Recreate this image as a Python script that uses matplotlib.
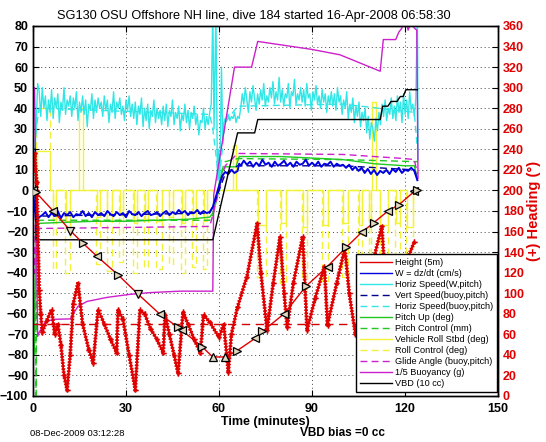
import numpy as np
import matplotlib
matplotlib.use('Agg')
import matplotlib.pyplot as plt
from matplotlib.lines import Line2D
from matplotlib import patheffects as pe

plt.rcParams['font.family'] = ['Liberation Sans', 'DejaVu Sans']

# ---------------- data (left axis units unless noted) ----------------
depth_t = [0, 1, 6.5, 12, 16, 20.6, 27.4, 34, 41, 46.8, 48, 54.5, 58, 62, 65.8, 71.6, 74, 81, 88, 95, 101, 106, 110, 114.5, 118, 123, 124]
depth_v = [0, -1, -10, -19.5, -25.5, -32, -41, -50.6, -60.3, -66.6, -68, -76, -81, -81, -78, -72, -68.6, -60, -46.7, -37, -27.7, -20.4, -15.6, -10, -7, -0.5, 0]
depth_markers = ['<', '>', '<', 'v', '>', '<', '>', 'v', '<', '>', '<', '>', '^', '^', '>', '<', '>', '<', '>', '<', '>', '<', '>', '<', '>', '<', '>']

# heading (degrees, right axis)
head_t = [0, 0.5, 1.2, 2, 2.5, 3, 4.5, 6, 7, 8, 9, 10, 11, 12, 13, 14.5, 16, 18, 19.4, 21,
          23, 25, 27, 27.4, 29, 31, 33, 34.5, 36, 38, 40, 42, 42.6, 44, 45.5, 46.8, 48.4, 50, 52, 54,
          55, 57, 60, 61.5, 62.5, 63, 64, 66, 69, 72.3, 73.5, 75.5, 77.5, 79.7, 81, 82, 84, 87, 88.4, 91,
          94, 95, 98, 100.6, 102, 104, 108, 112.5, 113.5, 115, 118, 121, 123]
head_v = [220, 236, 208, 103, 80, 62, 74, 84, 60, 70, 50, 20, 6, 40, 90, 110, 70, 45, 32, 84,
          70, 55, 42, 84, 75, 40, 6, 84, 80, 65, 55, 42, 79, 60, 40, 22, 82, 70, 55, 42,
          79, 72, 57, 70, 40, 23, 60, 87, 116, 168, 120, 64, 110, 155, 100, 67, 110, 155, 64, 95,
          126, 69, 110, 144, 100, 60, 110, 165, 120, 62, 100, 135, 150]
head_target = 70

# W = dz/dt
w_start_t = [0, 0.5, 1, 2]
w_start_v = [0, -8, -15, -13]
w_desc = [-12, -10.5, -13, -11, -12.5, -10, -13.5, -11, -12, -10.5,
          -13, -11.5, -12, -10, -12.5, -11, -13, -10.5, -12, -11,
          -12.5, -10, -11.5, -12.5, -10.5, -12, -11, -13, -10, -11.5,
          -12, -10.5, -12.5, -11, -10, -12, -11.5, -10.5, -12.5, -11,
          -10, -12, -10.5, -11.5, -9.5, -11, -10, -12, -10.5, -11,
          -9.5, -11.5, -10, -11, -10.5]
w_mid_t = [58, 59, 60, 61, 62, 63, 64, 65, 66, 66.5]
w_mid_v = [-8, -3, 2, 7, 9, 8, 10, 8.5, 9.5, 13]
w_asc1 = [12, 14.5, 12.5, 14, 11.5, 13.5, 12, 15, 12.5, 13.5, 11.5, 14, 12, 13, 14.5, 12, 13.5,
          11.5, 14, 12.5, 13, 15, 12, 13.5, 12, 14, 11.5, 13, 12.5, 14, 11.5, 13, 12, 12.5]
w_asc2 = [11, 12.5, 10, 11.5, 9.5, 11, 8.5, 10.5, 8, 10, 7.5, 9.5, 8.5, 10, 8, 10.5, 9, 11, 8.5, 10, 9.5, 11, 9.5]
w_end = 5

# Horiz speed (W, pitch)
hs_start_t = [0, 1, 1.5]
hs_start_v = [5, 30, 52]
hs_desc = [48, 36, 50, 40, 46, 34, 44, 38, 49, 35, 45, 40, 47, 33, 43, 39, 50, 37, 44, 41, 46,
           36, 45, 40, 48, 34, 43, 38, 46, 37, 44, 31, 42, 39, 47, 35, 44, 38, 45, 40, 43,
           36, 46, 39, 44, 33, 42, 38, 48, 35, 43, 40, 45, 37, 41, 34, 44, 39, 46, 36, 42,
           35, 43, 32, 41, 37, 45, 31, 40, 34, 42, 30, 39, 36, 44, 33, 40, 35, 39, 32, 41,
           34, 42, 31, 39, 36, 44, 32, 38, 35, 41, 29, 37, 34, 42, 33, 39, 30, 38, 35, 41,
           32, 37, 27, 34, 33, 40, 30, 36, 32, 38]
hs_mid_t = [57.5, 58, 58.4, 59, 59.5, 59.8, 60.2, 60.8, 61.2, 61.6, 62]
hs_mid_v = [42, 88, 30, 88, 5, 20, 0, 60, 25, 33, 35]
hs_asc0 = [35, 37, 34, 36, 35, 38, 33, 36, 35]
hs_asc = [40, 47, 42, 50, 44, 38, 48, 43, 51, 45, 39, 47, 42, 49, 44, 52, 41, 46, 43, 50,
          45, 53, 42, 48, 44, 55, 43, 49, 41, 47, 45, 52, 40, 48, 46, 54, 42, 47, 44, 50,
          43, 49, 41, 52, 45, 47, 39, 48, 44, 51, 42, 46, 40, 49, 43, 47, 38, 46, 42, 48,
          41, 47, 39, 50, 43, 46, 37, 44, 40, 48, 35, 42, 38, 45, 33, 41, 36, 43, 31, 38,
          34, 40, 28, 36, 25, 33, 30, 24, 35, 29, 38, 32, 42, 36, 44, 34, 40, 37, 45, 35,
          41, 34, 46, 38, 43, 33, 47, 37, 44, 35, 48, 39, 42, 36, 45]
hs_end_t = [124, 124.2]
hs_end_v = [88, 15]

# Vert speed (buoy,pitch) and Horiz speed (buoy,pitch)
vsb_t = [0, 1, 2, 57, 58, 60, 62, 66, 100, 123, 124]
vsb_v = [0, -13, -12.5, -11, -8, 0, 8, 12, 12, 10, 5]
hsb_t = [0, 1, 2, 57, 58, 60, 62, 66, 100, 123, 124]
hsb_v = [0, 30, 40, 37, 30, 5, 33, 41, 42, 38, 20]

# Pitch
pitch_t = [0, 0.3, 0.6, 1, 2, 10, 20, 30, 40, 50, 57, 58, 59, 60, 61, 62, 65.5, 66.5, 80, 100, 110, 120, 123, 124]
pitch_v = [0, -80, -60, -20, -16, -15.5, -15, -15, -14.5, -14, -13, -11, -5, 3, 9, 11.5, 11.5, 16.5, 16.5, 15, 13, 12, 12, 6]
pctl_t = [0, 0.8, 1.0, 1.2, 2, 57, 58, 60, 61, 62, 66, 100, 124]
pctl_v = [-2, -2, -110, -14, -14.5, -14.5, -12, 0, 10, 14, 15.5, 15, 14]

# Roll (solid) pulses and roll control (dashed) pulses
roll_starts = [1.2, 6.5, 10.5, 14.8, 20.5, 24.0, 28.0, 32.5, 36.0, 40.0, 44.0, 48.0, 51.5, 55.0, 64.5,
               72.5, 80.0, 87.0, 93.5, 100.0, 105.0, 108.3, 109.5, 112.0, 117.0, 120.6]
roll_ends = [5.5, 7.5, 12.0, 16.2, 21.5, 25.5, 29.0, 33.5, 37.0, 41.5, 45.0, 49.0, 52.5, 56.0, 65.5,
             75.0, 81.5, 88.5, 95.0, 101.5, 106.0, 109.0, 110.5, 114.5, 118.5, 122.5]
roll_levels = [19, -14, -15, 40, -13, -15, -12, -16, -14, -15, -13, -16, -14, -15, 22,
               -17, -16, -18, -17, -16, -17, -15, 43, -17, -16, -18]
rctl_starts = [1.0, 6.3, 10.3, 20.3, 23.8, 27.8, 32.3, 35.8, 39.8, 43.8, 47.8, 51.3, 54.8, 72.3, 79.8,
               86.8, 93.3, 99.8, 104.8, 108.3, 111.8, 116.8, 120.4]
rctl_ends = [5.5, 7.5, 12.0, 21.5, 25.5, 29.0, 33.5, 37.0, 41.5, 45.0, 49.0, 52.5, 56.0, 75.0, 81.5,
             88.5, 95.0, 101.5, 106.0, 109.0, 114.5, 118.5, 122.5]
rctl_levels = [40, -38, -40, -36, -39, -35, -40, -37, -38, -36, -40, -37, -38, -42, -45,
               -48, -44, -42, -46, -40, -47, -44, -45]

# Glide angle
glide_t = [0, 0.5, 1, 2, 30, 57, 58, 60, 62, 66, 100, 120, 123, 124]
glide_v = [5, -40, -22, -18.5, -18, -17.5, -12, 0, 12, 18, 17.5, 15.5, 15, 8]

# 1/5 buoyancy
buoy_t = [0, 0.5, 1.5, 2, 4, 6.5, 12, 14.5, 17.4, 24, 31, 37.7, 47.4, 58, 58.3, 65, 70.5, 72.5, 90, 99,
          112, 113, 117, 118, 119, 120, 121, 122, 123, 123.8, 124.2]
buoy_v = [50, 50, -71, -69, -64, -62.7, -62.5, -56.4, -54, -52, -50.6, -49.7, -49, -49, -2, 60, 60, 72.5, 68.6, 66,
          58, 73.4, 73.4, 77, 79, 85, 78, 82, 79, 78, 6]

# VBD
vbd_t = [0, 0.8, 1, 58, 66, 71.5, 72.5, 112, 112.8, 114.5, 115.5, 117.4, 118.5, 119.4, 120.3, 121, 124]
vbd_v = [20, 20, -24, -24, 28, 28, 34.5, 34.5, 41, 41, 43.3, 43.3, 45.7, 45.7, 49, 49, 49]

legend_labels = ['Height (5m)', 'W = dz/dt (cm/s)', 'Horiz Speed(W,pitch)', 'Vert Speed(buoy,pitch)',
                 'Horiz Speed(buoy,pitch)', 'Pitch Up (deg)', 'Pitch Control (mm)', 'Vehicle Roll Stbd (deg)',
                 'Roll Control (deg)', 'Glide Angle (buoy,pitch)', '1/5 Buoyancy (g)', 'VBD (10 cc)']

# ---------------- helpers ----------------
def pulses(t0, t1, starts, ends, levels, base=0.0):
    t = [t0]
    v = [base]
    for s, e, l in zip(starts, ends, levels):
        t += [s, s, e, e]
        v += [base, l, l, base]
    t.append(t1)
    v.append(base)
    return t, v

RED = '#e00000'
BLUE = '#0000e0'
CYAN = '#30e6e6'
GREEN = '#20c820'
YELLOW = '#f2f23a'
MAGENTA = '#cc20cc'

fig = plt.figure(figsize=(5.46, 4.42), dpi=100)
ax = fig.add_axes([33 / 546, 46 / 442, 465 / 546, 370 / 442])
ax2 = ax.twinx()

lw = 1.0
rt, rv = pulses(0, 124, roll_starts, roll_ends, roll_levels)
ax.plot(rt, rv, color=YELLOW, lw=lw, zorder=2)
ct, cv = pulses(0, 124, rctl_starts, rctl_ends, rctl_levels)
ax.plot(ct, cv, color=YELLOW, lw=lw, ls=(0, (5, 3)), zorder=2)

hs_t = (hs_start_t + list(np.linspace(2, 57, len(hs_desc))) + hs_mid_t +
        list(np.linspace(62.5, 66.5, len(hs_asc0))) + list(np.linspace(67, 123.5, len(hs_asc))) + hs_end_t)
hs_v = hs_start_v + hs_desc + hs_mid_v + hs_asc0 + hs_asc + hs_end_v
ax.plot(hs_t, hs_v, color=CYAN, lw=lw, zorder=3)
ax.plot(hsb_t, hsb_v, color=CYAN, lw=lw, ls=(0, (5, 3)), zorder=3)

ax.plot(pitch_t, pitch_v, color=GREEN, lw=lw, zorder=4)
ax.plot(pctl_t, pctl_v, color=GREEN, lw=lw, ls=(0, (5, 3)), zorder=4)

ax.plot(glide_t, glide_v, color=MAGENTA, lw=lw, ls=(0, (5, 3)), zorder=4)
ax.plot(buoy_t, buoy_v, color=MAGENTA, lw=lw, zorder=4)

w_t = (w_start_t + list(np.linspace(3, 57, len(w_desc))) + w_mid_t +
       list(np.linspace(67, 100, len(w_asc1))) + list(np.linspace(101, 123, len(w_asc2))) + [124])
w_v = w_start_v + w_desc + w_mid_v + w_asc1 + w_asc2 + [w_end]
ax.plot(vsb_t, vsb_v, color='#000090', lw=lw, ls=(0, (5, 3)), zorder=5)
ax.plot(w_t, w_v, color=BLUE, lw=1.4, zorder=5)

ax.plot(vbd_t, vbd_v, color='k', lw=lw, zorder=6)

# heading on right axis
ax2.plot([0, 124], [head_target, head_target], color='#d00000', lw=1.0, ls=(0, (6, 4)), zorder=1)
ax2.plot(head_t, head_v, color=RED, lw=1.2, ls='-', marker='+', ms=3.5, mew=1.0, zorder=2,
         path_effects=[pe.withTickedStroke(angle=90, spacing=2.2, length=0.35),
                       pe.withTickedStroke(angle=-90, spacing=2.2, length=0.35)])

ax2_depth_v = [(v + 100) * 2 for v in depth_v]
ax2.plot(depth_t, ax2_depth_v, color=RED, lw=1.0, zorder=3)
for tt, vv, m in zip(depth_t, ax2_depth_v, depth_markers):
    ax2.plot([tt], [vv], marker=m, ls='none', mec='k', mfc='#e0d8c0', ms=5.5, mew=0.9, zorder=4)

ax.set_xlim(0, 150)
ax.set_ylim(-100, 80)
ax2.set_ylim(0, 360)
ax.set_xticks(np.arange(0, 151, 30))
ax.set_yticks(np.arange(-100, 81, 10))
ax2.set_yticks(np.arange(0, 361, 20))
ax.grid(True, ls=(0, (1, 3)), color='#444444', lw=0.7)
ax.tick_params(axis='both', direction='in', length=4, top=True, labelsize=9)
ax.tick_params(axis='x', pad=5)
ax2.tick_params(axis='y', direction='in', length=4, labelsize=9, colors=RED)
ax2.tick_params(axis='y', color='k')
for lab in ax.get_xticklabels() + ax.get_yticklabels():
    lab.set_fontweight('bold')
for lab in ax2.get_yticklabels():
    lab.set_fontweight('bold')
    lab.set_color(RED)
for sp in list(ax.spines.values()) + list(ax2.spines.values()):
    sp.set_linewidth(1.0)
    sp.set_color('k')

ax.set_xlabel('Time (minutes)', fontsize=9, fontweight='bold', labelpad=1)
ax2.set_ylabel('(+) Heading (\u00b0)', fontsize=10.5, fontweight='bold', color=RED, labelpad=2)
ax.set_title('SG130 OSU Offshore NH line, dive 184 started 16-Apr-2008 06:58:30', fontsize=9.2,
             x=(254 - 33) / 465, pad=5)

handles = [
    Line2D([], [], color=RED, lw=1),
    Line2D([], [], color=BLUE, lw=1),
    Line2D([], [], color=CYAN, lw=1),
    Line2D([], [], color='#000090', lw=1, ls=(0, (5, 3))),
    Line2D([], [], color=CYAN, lw=1, ls=(0, (5, 3))),
    Line2D([], [], color=GREEN, lw=1),
    Line2D([], [], color=GREEN, lw=1, ls=(0, (5, 3))),
    Line2D([], [], color=YELLOW, lw=1),
    Line2D([], [], color=YELLOW, lw=1, ls=(0, (5, 3))),
    Line2D([], [], color=MAGENTA, lw=1, ls=(0, (5, 3))),
    Line2D([], [], color=MAGENTA, lw=1),
    Line2D([], [], color='k', lw=1),
]
leg = ax2.legend(handles, legend_labels, loc='lower right', bbox_to_anchor=(0.998, 0.011),
                 borderaxespad=0, fontsize=6.6, handlelength=3.5, handletextpad=0.4,
                 labelspacing=0.22, borderpad=0.4, fancybox=False, framealpha=1, edgecolor='k')
leg.get_frame().set_linewidth(1.0)
leg.set_zorder(10)

fig.text(30 / 546, 1 - 433 / 442, '08-Dec-2009 03:12:28', fontsize=6.8, va='center', ha='left')
fig.text(300 / 546, 1 - 433 / 442, 'VBD bias =0 cc', fontsize=8.5, fontweight='bold', va='center', ha='left')

fig.savefig('out.png', dpi=100)
